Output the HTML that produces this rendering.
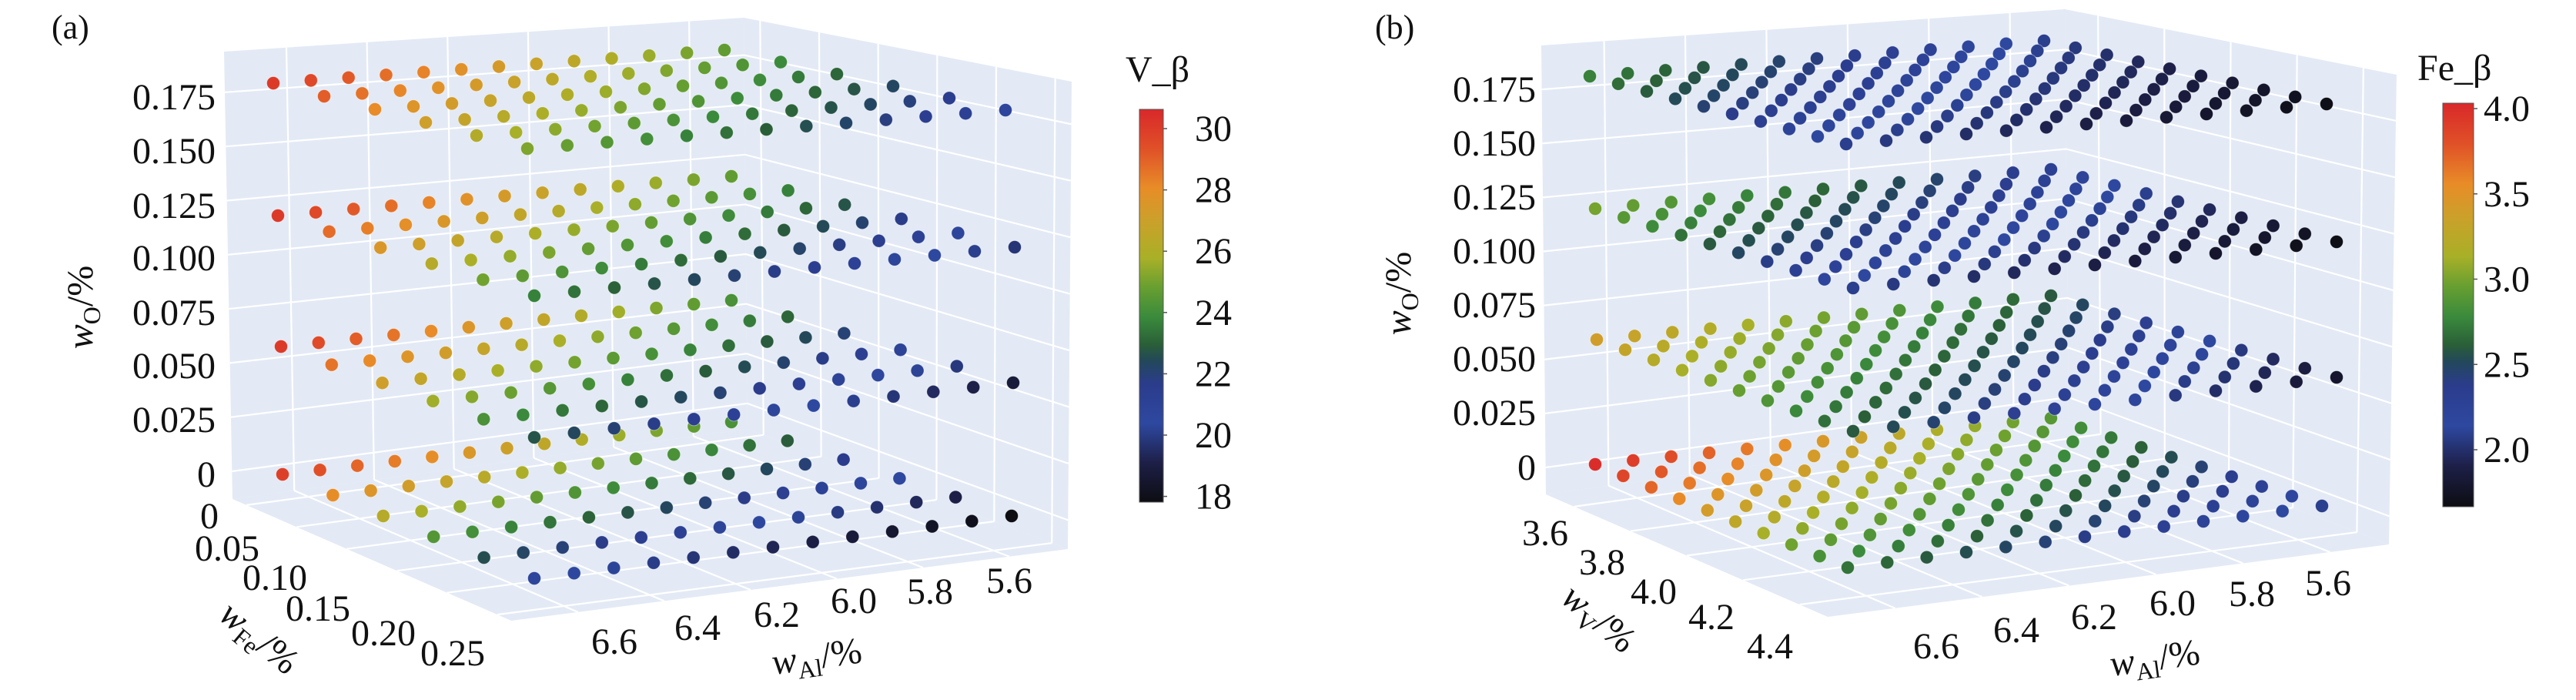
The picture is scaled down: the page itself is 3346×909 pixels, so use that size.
<!DOCTYPE html>
<html><head><meta charset="utf-8">
<style>
html,body{margin:0;padding:0;background:#fff;}
svg{display:block;}
svg, svg text{font-family:"Liberation Serif","Times New Roman",serif;fill:#111;}
</style></head>
<body>
<svg id="s" xmlns="http://www.w3.org/2000/svg" width="3346" height="909" viewBox="0 0 3346 909" font-family="'Liberation Serif', 'Times New Roman', serif">
<defs>
<linearGradient id="cm" x1="0" y1="1" x2="0" y2="0">
<stop offset="0" stop-color="#0d0d12"/>
<stop offset="0.1" stop-color="#1d1f47"/>
<stop offset="0.2" stop-color="#2e48a0"/>
<stop offset="0.3" stop-color="#2b3c8c"/>
<stop offset="0.36" stop-color="#23485a"/>
<stop offset="0.4" stop-color="#2a5e38"/>
<stop offset="0.47" stop-color="#3a8a3c"/>
<stop offset="0.55" stop-color="#6aa030"/>
<stop offset="0.62" stop-color="#a8b028"/>
<stop offset="0.72" stop-color="#cca02a"/>
<stop offset="0.8" stop-color="#e88c28"/>
<stop offset="0.9" stop-color="#e05028"/>
<stop offset="1" stop-color="#d9282a"/>
</linearGradient>
</defs>
<g id="ga"></g>
<g id="gb"></g>

<text x="67" y="50" font-size="44">(a)</text>
<g font-size="48" text-anchor="end">
<text x="280" y="142">0.175</text>
<text x="280" y="212">0.150</text>
<text x="280" y="283">0.125</text>
<text x="280" y="351">0.100</text>
<text x="280" y="422">0.075</text>
<text x="280" y="491">0.050</text>
<text x="280" y="561">0.025</text>
<text x="280" y="632">0</text>
</g>
<text transform="translate(120,399) rotate(-90)" font-size="48" text-anchor="middle"><tspan font-style="italic">w</tspan><tspan font-size="32" dy="10">O</tspan><tspan dy="-10">/%</tspan></text>
<g font-size="48" text-anchor="middle">
<text x="272" y="686">0</text>
<text x="295" y="728">0.05</text>
<text x="357" y="766">0.10</text>
<text x="413" y="806">0.15</text>
<text x="498" y="838">0.20</text>
<text x="588" y="864">0.25</text>
<text x="798" y="849">6.6</text>
<text x="906" y="831">6.4</text>
<text x="1009" y="814">6.2</text>
<text x="1109" y="796">6.0</text>
<text x="1208" y="784">5.8</text>
<text x="1311" y="770">5.6</text>
</g>
<text transform="translate(327,840) rotate(40)" font-size="48" text-anchor="middle"><tspan font-style="italic">w</tspan><tspan font-size="32" dy="10">Fe</tspan><tspan dy="-10">/%</tspan></text>
<text transform="translate(1063,868) rotate(-8)" font-size="48" text-anchor="middle"><tspan font-style="italic">w</tspan><tspan font-size="32" dy="10">Al</tspan><tspan dy="-10">/%</tspan></text>
<text x="1462" y="106" font-size="48">V_β</text>
<rect x="1480" y="142" width="31" height="510" fill="url(#cm)" stroke="#555" stroke-width="1"/>
<g font-size="48" id="cba"></g>

<text x="1786" y="50" font-size="44">(b)</text>
<g font-size="48" text-anchor="end">
<text x="1995" y="132">0.175</text>
<text x="1995" y="202">0.150</text>
<text x="1995" y="272">0.125</text>
<text x="1995" y="342">0.100</text>
<text x="1995" y="412">0.075</text>
<text x="1995" y="482">0.050</text>
<text x="1995" y="552">0.025</text>
<text x="1995" y="623">0</text>
</g>
<text transform="translate(1832,381) rotate(-90)" font-size="48" text-anchor="middle"><tspan font-style="italic">w</tspan><tspan font-size="32" dy="10">O</tspan><tspan dy="-10">/%</tspan></text>
<g font-size="48" text-anchor="middle">
<text x="2007" y="708">3.6</text>
<text x="2081" y="746">3.8</text>
<text x="2148" y="784">4.0</text>
<text x="2223" y="817">4.2</text>
<text x="2299" y="855">4.4</text>
<text x="2515" y="855">6.6</text>
<text x="2619" y="834">6.4</text>
<text x="2720" y="817">6.2</text>
<text x="2822" y="799">6.0</text>
<text x="2925" y="787">5.8</text>
<text x="3024" y="773">5.6</text>
</g>
<text transform="translate(2067,815) rotate(40)" font-size="48" text-anchor="middle"><tspan font-style="italic">w</tspan><tspan font-size="32" dy="10">V</tspan><tspan dy="-10">/%</tspan></text>
<text transform="translate(2801,870) rotate(-8)" font-size="48" text-anchor="middle"><tspan font-style="italic">w</tspan><tspan font-size="32" dy="10">Al</tspan><tspan dy="-10">/%</tspan></text>
<text x="3140" y="104" font-size="48">Fe_β</text>
<rect x="3173" y="134" width="40" height="524" fill="url(#cm)" stroke="#555" stroke-width="1"/>
<g font-size="48" id="cbb"></g>
</svg>
<script>
(function(){
var NS="http://www.w3.org/2000/svg";
function el(p,n,a){var e=document.createElementNS(NS,n);for(var k in a)e.setAttribute(k,a[k]);p.appendChild(e);return e;}
var stops=[[0,"#0d0d12"],[0.1,"#1d1f47"],[0.2,"#2e48a0"],[0.3,"#2b3c8c"],[0.36,"#23485a"],[0.4,"#2a5e38"],[0.47,"#3a8a3c"],[0.55,"#6aa030"],[0.62,"#a8b028"],[0.72,"#cca02a"],[0.8,"#e88c28"],[0.9,"#e05028"],[1,"#d9282a"]];
function hx(c){return [parseInt(c.substr(1,2),16),parseInt(c.substr(3,2),16),parseInt(c.substr(5,2),16)];}
function cmap(t){t=Math.max(0,Math.min(1,t));for(var i=0;i<stops.length-1;i++){if(t<=stops[i+1][0]){var a=hx(stops[i][1]),b=hx(stops[i+1][1]);var f=(t-stops[i][0])/(stops[i+1][0]-stops[i][0]);return "rgb("+[0,1,2].map(function(k){return Math.round(a[k]+(b[k]-a[k])*f);}).join(",")+")";}}return stops[stops.length-1][1];}
function bil(c,u,v){
 return [ (1-u)*(1-v)*c[0][0]+u*(1-v)*c[1][0]+(1-u)*v*c[2][0]+u*v*c[3][0],
          (1-u)*(1-v)*c[0][1]+u*(1-v)*c[1][1]+(1-u)*v*c[2][1]+u*v*c[3][1]];}
function panel(g,P){
 var W=P.walls;
 el(g,"polygon",{points:[W.TL,W.TB,W.BB,W.BL].join(" "),fill:"#e3eaf5"});
 el(g,"polygon",{points:[W.TB,W.TR,W.BR,W.BB].join(" "),fill:"#e3eaf5"});
 el(g,"polygon",{points:[W.BL,W.BB,W.BR,W.F].join(" "),fill:"#e3eaf5"});
 var ls={stroke:"#fff","stroke-width":2.2,fill:"none"};
 for(var k=0;k<8;k++){var f=P.f0+k*(P.f1-P.f0)/7;
  var a=[W.BL[0]+(W.TL[0]-W.BL[0])*f,W.BL[1]+(W.TL[1]-W.BL[1])*f];
  var b=[W.BB[0]+(W.TB[0]-W.BB[0])*f,W.BB[1]+(W.TB[1]-W.BB[1])*f];
  var c=[W.BR[0]+(W.TR[0]-W.BR[0])*f,W.BR[1]+(W.TR[1]-W.BR[1])*f];
  el(g,"polyline",Object.assign({points:[a,b,c].join(" ")},ls));}
 var floor=[W.BL,W.BB,W.F,W.BR];
 P.vs.forEach(function(v){
  var p=bil(floor,0,v),q=bil(floor,1,v);
  el(g,"line",Object.assign({x1:p[0],y1:p[1],x2:q[0],y2:q[1]},ls));
  var t=[W.TB[0]+(W.TR[0]-W.TB[0])*v,W.TB[1]+(W.TR[1]-W.TB[1])*v];
  el(g,"line",Object.assign({x1:q[0],y1:q[1],x2:t[0],y2:t[1]},ls));});
 P.us.forEach(function(u){
  var p=bil(floor,u,0),q=bil(floor,u,1);
  el(g,"line",Object.assign({x1:p[0],y1:p[1],x2:q[0],y2:q[1]},ls));
  var t=[W.TL[0]+(W.TB[0]-W.TL[0])*u,W.TL[1]+(W.TB[1]-W.TL[1])*u];
  el(g,"line",Object.assign({x1:p[0],y1:p[1],x2:t[0],y2:t[1]},ls));});
 P.layers.forEach(function(L){
  for(var j=0;j<P.nj;j++)for(var i=0;i<P.ni;i++){
   var u=i/(P.ni-1),v=j/(P.nj-1);
   var p=bil(L.c,u,v);
   var val=(1-u)*(1-v)*L.v[0]+u*(1-v)*L.v[1]+(1-u)*v*L.v[2]+u*v*L.v[3];
   el(g,"circle",{cx:p[0].toFixed(1),cy:p[1].toFixed(1),r:8.5,fill:cmap((val-P.vmin)/(P.vmax-P.vmin)),stroke:"rgba(255,255,255,0.5)","stroke-width":0.8});
  }});
}
panel(document.getElementById("ga"),{
 walls:{TL:[291,67],TB:[966,23],TR:[1392,106],BR:[1387,713],F:[664,806],BL:[302,648],BB:[971,557]},
 f0:0.062,f1:0.909,
 us:[0.12,0.275,0.43,0.585,0.74,0.895],vs:[0.05,0.23,0.41,0.59,0.77,0.95],
 ni:13,nj:6,vmin:17.5,vmax:30.6,
 layers:[
  {c:[[367,616],[950,548],[694,751],[1314,670]],v:[29.8,24,20.5,17.5]},
  {c:[[365,450],[950,390],[694,568],[1316,497]],v:[30,24,22.5,18.5]},
  {c:[[361,280],[950,229],[694,384],[1318,321]],v:[30,24.5,23.5,19.5]},
  {c:[[355,108],[941,65],[685,193],[1306,143]],v:[30,24.5,25,20.5]}
 ]});
panel(document.getElementById("gb"),{
 walls:{TL:[2002,59],TB:[2682,12],TR:[3113,97],BR:[3103,707],F:[2374,801],BL:[2008,642],BB:[2687,548]},
 f0:0.06,f1:0.902,
 us:[0.12,0.275,0.43,0.585,0.74,0.895],vs:[0.1,0.3,0.5,0.7,0.9],
 ni:13,nj:10,vmin:1.68,vmax:4.03,
 layers:[
  {c:[[2072,603],[2664,543],[2400,737],[3016,657]],v:[4.0,2.9,2.7,2.1]},
  {c:[[2074,441],[2664,384],[2407,560],[3035,490]],v:[3.4,2.6,2.6,1.8]},
  {c:[[2072,271],[2664,220],[2407,374],[3035,314]],v:[3.0,2.3,2.1,1.7]},
  {c:[[2065,99],[2655,53],[2398,187],[3022,135]],v:[2.75,2.1,2.1,1.7]}
 ]});
var ca=document.getElementById("cba");
[30,28,26,24,22,20,18].forEach(function(v){var y=167+(30-v)*39.8;
 el(ca,"line",{x1:1511,y1:y,x2:1516,y2:y,stroke:"#555","stroke-width":1.5});
 var t=el(ca,"text",{x:1552,y:y+16});t.textContent=String(v);});
var cb=document.getElementById("cbb");
[4.0,3.5,3.0,2.5,2.0].forEach(function(v){var y=141+(4-v)*221.5;
 el(cb,"line",{x1:3213,y1:y,x2:3218,y2:y,stroke:"#555","stroke-width":1.5});
 var t=el(cb,"text",{x:3226,y:y+16});t.textContent=v.toFixed(1);});
})();
</script>
</body></html>
